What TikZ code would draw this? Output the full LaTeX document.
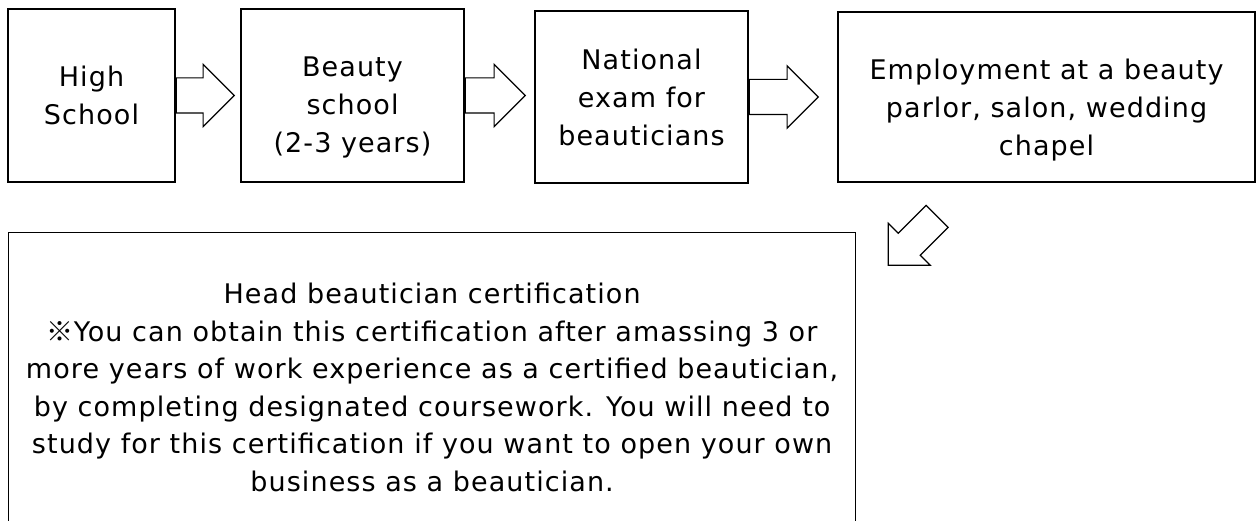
\documentclass[tikz,border=0pt]{standalone}
\usepackage{fontspec}
\setmainfont[LetterSpace=4]{DejaVu Sans}
\newfontfamily\cjk{Noto Sans CJK JP}
\usetikzlibrary{shapes.arrows}

\begin{document}
\begin{tikzpicture}[x=1pt,y=1pt,
  box/.style={draw,line width=1.2pt,align=center,inner sep=0pt,
    font=\fontsize{27}{38}\selectfont},
  fatarrow/.style={draw,line width=1.2pt,single arrow,anchor=tail,
    single arrow head extend=13.5pt,inner xsep=0pt,inner ysep=17pt}]
\useasboundingbox (0,0) rectangle (1256,-521);
% steps along the top row
\node[box,minimum width=167pt,minimum height=173pt] (hs) at (91.5,-95.5) {High\\School};
\node[box,minimum width=223pt,minimum height=173pt] (bs) at (352.5,-95.5) {\rule{0pt}{44pt}Beauty\\school\\(2-3 years)};
\node[box,minimum width=213pt,minimum height=172pt] (exam) at (641.5,-97) {National\\exam for\\beauticians};
\node[box,minimum width=417pt,minimum height=170pt] (emp) at (1046.5,-97) {\rule{0pt}{46pt}Employment at a beauty\\parlor, salon, wedding\\chapel};
% last step, cut off at the bottom
\node[box,minimum width=847pt,minimum height=310pt,anchor=north west,
  font=\fontsize{27}{37.5}\selectfont] (cert) at (8,-232)
  {Head beautician certification\\
   {\cjk ※}You can obtain this certification after amassing 3 or\\
   more years of work experience as a certified beautician,\\
   by completing designated coursework. You will need to\\
   study for this certification if you want to open your own\\
   business as a beautician.};
% block arrows
\node[fatarrow,minimum height=58pt] (ar1) at (hs.east) {};
\node[fatarrow,minimum height=60pt] (ar2) at (bs.east) {};
\node[fatarrow,minimum height=69pt] (ar3) at (exam.east) {};
\node[fatarrow,minimum height=69pt,inner ysep=15pt,single arrow head extend=14pt,rotate=225] (ar4) at (937.5,-216) {};
\end{tikzpicture}
\end{document}
